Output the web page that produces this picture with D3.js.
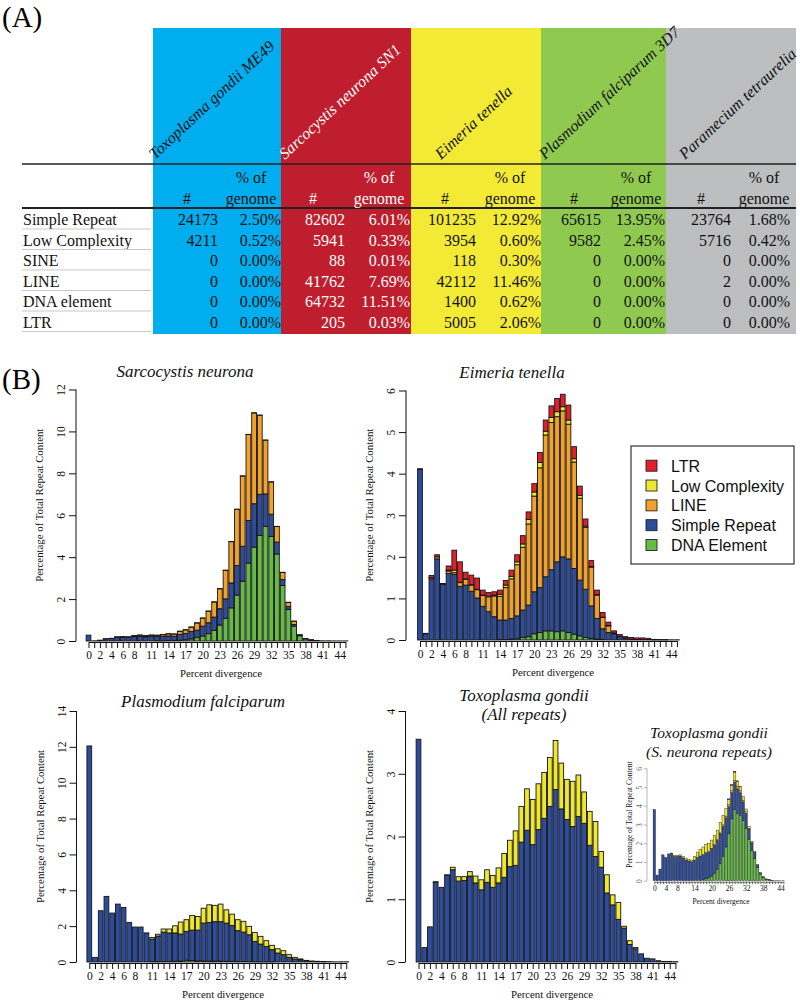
<!DOCTYPE html>
<html><head><meta charset="utf-8">
<script src="https://cdn.jsdelivr.net/npm/d3@7"></script>
<style>
body{margin:0;background:#fff}
svg{display:block}
text{font-family:"Liberation Serif","Times New Roman",serif}
</style>
</head><body>
<svg id="c" width="800" height="1006"></svg>
<script>
// ---------------- DATA: table (A) ----------------
const speciesNames = ["Toxoplasma gondii ME49","Sarcocystis neurona SN1","Eimeria tenella","Plasmodium falciparum 3D7","Paramecium tetraurelia"];
const repeatTypes = ["Simple Repeat","Low Complexity","SINE","LINE","DNA element","LTR"];
const countsToxoplasma  = [24173, 4211, 0, 0, 0, 0];
const pctToxoplasma     = [2.50, 0.52, 0.00, 0.00, 0.00, 0.00];
const countsSarcocystis = [82602, 5941, 88, 41762, 64732, 205];
const pctSarcocystis    = [6.01, 0.33, 0.01, 7.69, 11.51, 0.03];
const countsEimeria     = [101235, 3954, 118, 42112, 1400, 5005];
const pctEimeria        = [12.92, 0.60, 0.30, 11.46, 0.62, 2.06];
const countsPlasmodium  = [65615, 9582, 0, 0, 0, 0];
const pctPlasmodium     = [13.95, 2.45, 0.00, 0.00, 0.00, 0.00];
const countsParamecium  = [23764, 5716, 0, 2, 0, 0];
const pctParamecium     = [1.68, 0.42, 0.00, 0.00, 0.00, 0.00];

// ---------------- DATA: histograms (B) ----------------
const bins = [0,1,2,3,4,5,6,7,8,9,10,11,12,13,14,15,16,17,18,19,20,21,22,23,24,25,26,27,28,29,30,31,32,33,34,35,36,37,38,39,40,41,42,43,44,45];
const xTickLabels = [0,2,4,6,8,11,14,17,20,23,26,29,32,35,38,41,44];
const insetTickLabels = [0,4,8,14,20,26,32,38,44];
const legendLabels = ["LTR","Low Complexity","LINE","Simple Repeat","DNA Element"];

// Sarcocystis neurona
const sarcoDNA    = [0,0,0,0,0,0,0,0,0,0, 0,0,0.01,0.01,0.02,0.03,0.04,0.06,0.10,0.16, 0.24,0.35,0.51,0.76,1.08,1.58,2.19,2.85,3.72,4.48, 5.04,5.47,4.99,4.15,2.65,1.50,0.71,0.25,0.10,0.04, 0.02,0.01,0.01,0.005,0.005,0.005];
const sarcoSimple = [0.28,0.01,0.04,0.10,0.12,0.18,0.19,0.18,0.21,0.22, 0.20,0.21,0.20,0.21,0.22,0.20,0.27,0.30,0.35,0.36, 0.47,0.52,0.63,0.78,0.93,1.19,1.41,1.67,2.03,2.07, 1.96,1.55,1.06,0.57,0.28,0.15,0.08,0.02,0.01,0.01, 0.005,0,0,0,0,0];
const sarcoLINE   = [0,0,0,0,0,0.01,0.01,0.01,0.03,0.05, 0.04,0.06,0.06,0.08,0.10,0.10,0.15,0.17,0.21,0.34, 0.38,0.55,0.72,0.95,1.36,1.97,2.68,3.35,4.10,4.33, 3.77,2.56,1.54,0.74,0.34,0.19,0.15,0.02,0.01,0.01, 0,0,0,0,0,0];
const sarcoLowC   = [0,0,0,0.01,0.01,0.01,0.01,0.01,0.02,0.02, 0.02,0.02,0.01,0.01,0.01,0.01,0.01,0.01,0.01,0.01, 0.01,0.01,0.01,0.01,0.01,0.01,0.01,0.01,0.01,0.01, 0.01,0.01,0.01,0.01,0.01,0.01,0.01,0.01,0,0, 0,0,0,0,0,0];
const sarcoLTR    = [0,0,0,0,0,0,0,0,0,0, 0,0,0,0,0,0,0,0,0,0, 0,0,0,0,0,0,0,0,0,0, 0,0,0,0,0,0,0,0,0,0, 0,0,0,0,0,0];

// Eimeria tenella
const eimDNA    = [0,0,0,0,0,0,0,0,0,0, 0,0,0,0,0.01,0.01,0.02,0.03,0.06,0.08, 0.15,0.18,0.22,0.22,0.20,0.22,0.18,0.14,0.10,0.06, 0.04,0.02,0.01,0,0,0,0,0,0,0, 0,0,0,0,0,0];
const eimSimple = [4.10,0.15,1.47,1.95,1.34,1.60,1.58,1.29,1.32,1.17, 1.01,0.81,0.68,0.56,0.47,0.47,0.50,0.55,0.66,0.76, 1.01,1.08,1.30,1.47,1.68,1.78,1.77,1.58,1.34,1.16, 0.78,0.50,0.26,0.18,0.15,0.08,0.04,0.02,0.01,0.01, 0.01,0.005,0.005,0.005,0.005,0.005];
const eimLINE   = [0.02,0,0.03,0.05,0.01,0.06,0.04,0.09,0.14,0.15, 0.20,0.26,0.36,0.50,0.57,0.78,0.95,1.23,1.51,1.95, 2.30,2.88,3.41,3.54,3.49,3.51,3.24,2.56,1.97,1.49, 0.93,0.56,0.27,0.16,0.02,0.01,0.01,0,0,0, 0,0,0,0,0,0];
const eimLowC   = [0,0,0,0,0,0.02,0.06,0.01,0.01,0.01, 0.01,0.01,0.01,0.02,0.05,0.06,0.06,0.07,0.08,0.11, 0.10,0.13,0.09,0.12,0.12,0.10,0.10,0.08,0.07,0.03, 0.02,0.01,0.01,0.01,0,0,0,0,0,0, 0,0,0,0,0,0];
const eimLTR    = [0,0.01,0.05,0.05,0.01,0.10,0.48,0.49,0.16,0.23, 0.27,0.12,0.09,0.08,0.10,0.11,0.15,0.17,0.20,0.18, 0.20,0.24,0.27,0.28,0.32,0.30,0.36,0.29,0.22,0.17, 0.14,0.11,0.11,0.08,0.05,0.04,0.03,0.04,0.04,0.04, 0.03,0.01,0.005,0.005,0,0];

// Plasmodium falciparum
const plasDNA    = [0,0,0,0,0,0,0,0,0,0, 0,0.02,0.02,0.03,0.03,0.04,0.05,0.10,0.08,0.06, 0.06,0.05,0.05,0.05,0.04,0.04,0.03,0.03,0.02,0.02, 0.01,0.01,0.01,0,0,0,0,0,0,0, 0,0,0,0,0,0];
const plasSimple = [12.05,0.26,2.86,3.66,2.73,3.23,3.04,2.21,1.95,1.95, 1.60,1.26,1.43,1.64,1.59,1.58,1.51,1.61,1.70,1.72, 2.11,2.16,2.20,2.20,2.13,2.00,1.72,1.64,1.50,1.13, 0.99,0.86,0.68,0.50,0.41,0.26,0.17,0.12,0.07,0.04, 0.03,0.02,0.02,0.01,0.01,0.01];
const plasLINE   = [0,0,0,0,0,0,0,0,0,0, 0,0,0,0,0,0,0,0,0,0, 0,0,0,0,0,0,0,0,0,0, 0,0,0,0,0,0,0,0,0,0, 0,0,0,0,0,0];
const plasLowC   = [0,0,0,0,0,0,0,0,0,0, 0.02,0.09,0.10,0.17,0.22,0.40,0.67,0.65,0.82,0.76, 0.83,0.98,0.91,0.98,0.74,0.63,0.61,0.60,0.47,0.50, 0.43,0.32,0.24,0.24,0.22,0.15,0.09,0.05,0.02,0.01, 0.01,0.01,0,0,0,0];
const plasLTR    = [0,0,0,0,0,0,0,0,0,0, 0,0,0,0,0,0,0,0,0,0, 0,0,0,0,0,0,0,0,0,0, 0,0,0,0,0,0,0,0,0,0, 0,0,0,0,0,0];

// Toxoplasma gondii (all repeats)
const toxoDNA    = [0,0,0,0,0,0,0,0,0,0, 0,0,0,0,0,0,0,0,0,0, 0,0,0,0,0,0,0,0,0,0, 0,0,0,0,0,0,0,0,0,0, 0,0,0,0,0,0];
const toxoSimple = [3.55,0.23,0.56,1.27,1.19,1.38,1.47,1.29,1.30,1.37, 1.26,1.15,1.27,1.19,1.26,1.35,1.52,1.54,1.91,2.10, 1.87,2.11,2.29,2.48,2.75,2.44,2.27,2.16,2.32,2.21, 1.86,1.68,1.51,1.10,0.91,0.68,0.54,0.28,0.21,0.13, 0.06,0.05,0.02,0.01,0.01,0.005];
const toxoLINE   = [0,0,0,0,0,0,0,0,0,0, 0,0,0,0,0,0,0,0,0,0, 0,0,0,0,0,0,0,0,0,0, 0,0,0,0,0,0,0,0,0,0, 0,0,0,0,0,0];
const toxoLowC   = [0,0,0,0.01,0,0.01,0.04,0.07,0.06,0.07, 0.11,0.16,0.20,0.19,0.24,0.38,0.42,0.55,0.57,0.66, 0.72,0.73,0.73,0.78,0.78,0.73,0.64,0.72,0.66,0.50, 0.54,0.56,0.25,0.29,0.16,0.27,0.03,0.06,0.02,0, 0,0,0,0,0,0];
const toxoLTR    = [0,0,0,0,0,0,0,0,0,0, 0,0,0,0,0,0,0,0,0,0, 0,0,0,0,0,0,0,0,0,0, 0,0,0,0,0,0,0,0,0,0, 0,0,0,0,0,0];

// Toxoplasma gondii (S. neurona repeats) inset
const insetDNA    = [0,0,0,0,0,0,0,0,0,0, 0,0,0,0,0,0,0.02,0.05,0.10,0.15, 0.25,0.40,0.60,0.90,1.30,1.80,2.50,3.30,3.80,3.60, 3.50,3.20,2.80,2.20,1.60,1.20,0.70,0.35,0.18,0.08, 0.04,0.02,0.01,0.01,0.005,0.005];
const insetSimple = [3.80,0.30,0.62,1.38,1.23,1.43,1.48,1.30,1.30,1.32, 1.22,1.10,1.05,1.00,1.10,1.25,1.30,1.35,1.40,1.40, 1.45,1.50,1.55,1.60,1.60,1.55,1.45,1.40,1.45,1.30, 1.20,1.00,0.80,0.55,0.40,0.30,0.15,0.08,0.04,0.02, 0.01,0.01,0,0,0,0];
const insetLINE   = [0,0,0,0,0,0,0,0,0,0, 0,0,0,0,0,0,0,0,0,0, 0.02,0.03,0.05,0.05,0.08,0.10,0.10,0.10,0.10,0.15, 0.12,0.10,0.08,0.05,0.03,0.02,0,0,0,0, 0,0,0,0,0,0];
const insetLowC   = [0,0,0,0,0,0,0,0.05,0.05,0.06, 0.08,0.10,0.10,0.10,0.20,0.28,0.35,0.40,0.45,0.45, 0.45,0.50,0.50,0.55,0.50,0.40,0.30,0.30,0.45,0.25, 0.20,0.20,0.15,0.10,0.08,0.05,0,0,0,0, 0,0,0,0,0,0];
const insetLTR    = [0,0,0,0,0,0,0,0,0,0, 0,0,0,0,0,0,0,0,0,0, 0,0,0,0,0,0,0.02,0.03,0.03,0.03, 0.02,0,0,0,0,0,0,0,0,0, 0,0,0,0,0,0];

// ---------------- STYLE / LAYOUT ----------------
const keys = ["DNA","Simple","LINE","LowC","LTR"];
const barColors = {LTR:"#E3202A", LowC:"#EFE82C", LINE:"#F2A22C", Simple:"#2E4C9C", DNA:"#66BA47"};
const legendKeys = ["LTR","LowC","LINE","Simple","DNA"];
const colFills = ["#00AEEF","#BE1E2D","#F3EA36","#90C950","#BCBEC0"];
const headTextColor = ["#111","#fff","#111","#111","#111"];
const cellTextColor = ["#111","#fff","#111","#111","#111"];

const svg = d3.select("#c");
svg.append("rect").attr("width",800).attr("height",1006).attr("fill","#fff");

// ---------------- TABLE (A) ----------------
const colLeft  = [153,281,411,541,666];
const colRight = [281,411,541,666,796];
const hashX    = [187,313,445,574,701];
const numRight = [218,345,476,601,731];
const pctHeadX = [251,379,510,636,764];
const pctRight = [281,410,541,665,790];
const nameStart = [155,285,441,545,685];
const allCounts = [countsToxoplasma,countsSarcocystis,countsEimeria,countsPlasmodium,countsParamecium];
const allPcts = [pctToxoplasma,pctSarcocystis,pctEimeria,pctPlasmodium,pctParamecium];

svg.append("text").attr("x",2).attr("y",27).attr("font-size",29).text("(A)");

const rowY = d3.scalePoint().domain(repeatTypes).range([219.5, 322]);

const tg = svg.append("g");
tg.selectAll("rect.col").data(speciesNames).join("rect")
  .attr("x",(d,i)=>colLeft[i]).attr("y",28)
  .attr("width",(d,i)=>colRight[i]-colLeft[i]).attr("height",306)
  .attr("fill",(d,i)=>colFills[i]);

tg.selectAll("text.sp").data(speciesNames).join("text")
  .attr("transform",(d,i)=>`translate(${nameStart[i]},160) rotate(-43)`)
  .attr("font-size",16).attr("font-style","italic")
  .attr("fill",(d,i)=>headTextColor[i]).text(d=>d);

// header lines
tg.append("line").attr("x1",22).attr("x2",796).attr("y1",164).attr("y2",164).attr("stroke","#222").attr("stroke-width",1.5);
tg.append("line").attr("x1",22).attr("x2",796).attr("y1",208).attr("y2",208).attr("stroke","#222").attr("stroke-width",2);

speciesNames.forEach((s,i)=>{
  tg.append("text").attr("x",hashX[i]).attr("y",204).attr("text-anchor","middle").attr("font-size",16).attr("fill",cellTextColor[i]).text("#");
  tg.append("text").attr("x",pctHeadX[i]).attr("y",183).attr("text-anchor","middle").attr("font-size",16).attr("fill",cellTextColor[i]).text("% of");
  tg.append("text").attr("x",pctHeadX[i]).attr("y",204).attr("text-anchor","middle").attr("font-size",16).attr("fill",cellTextColor[i]).text("genome");
  repeatTypes.forEach((r,j)=>{
    tg.append("text").attr("x",numRight[i]).attr("y",rowY(r)+5.5).attr("text-anchor","end").attr("font-size",16).attr("fill",cellTextColor[i]).text(allCounts[i][j]);
    tg.append("text").attr("x",pctRight[i]).attr("y",rowY(r)+5.5).attr("text-anchor","end").attr("font-size",16).attr("fill",cellTextColor[i]).text(allPcts[i][j].toFixed(2)+"%");
  });
});
repeatTypes.forEach(r=>{
  tg.append("text").attr("x",23).attr("y",rowY(r)+5.5).attr("font-size",16).attr("fill","#111").text(r);
  tg.append("line").attr("x1",22).attr("x2",151).attr("y1",rowY(r)+9.5).attr("y2",rowY(r)+9.5).attr("stroke","#c8c8c8").attr("stroke-width",1);
});

// ---------------- PANELS (B) ----------------
svg.append("text").attr("x",2).attr("y",389).attr("font-size",29).text("(B)");

function drawPanel(cfg, layers) {
  const g = svg.append("g");
  const x = d3.scaleLinear().domain([bins[0], bins[bins.length-1]])
              .range([cfg.bar0, cfg.bar0 + cfg.step*(bins.length-1)]);
  const y = d3.scaleLinear().domain([0, cfg.yMax]).range([cfg.y0, cfg.yTop]);
  const rows = bins.map((b,i)=>{ const r={bin:b}; keys.forEach(k=>{ r[k]=layers[k][i]; }); return r; });
  const stacked = d3.stack().keys(keys)(rows);
  const bw = cfg.step/1.2;
  g.append("g").selectAll("g").data(stacked).join("g").attr("fill",d=>barColors[d.key])
    .selectAll("rect").data(d=>d.filter(s=>s[1]-s[0]>0)).join("rect")
    .attr("x",d=>x(d.data.bin)-bw/2).attr("y",d=>y(d[1]))
    .attr("width",bw).attr("height",d=>y(d[0])-y(d[1]))
    .attr("stroke","#151515").attr("stroke-width",cfg.sw);

  // x axis
  const lab = new Set(cfg.xLabels);
  const xa = g.append("g").attr("transform",`translate(0,${cfg.y0+1})`)
    .call(d3.axisBottom(x).tickValues(bins).tickFormat(d=>lab.has(d)?d:"").tickSize(cfg.tick).tickSizeOuter(0).tickPadding(cfg.xPad));
  xa.selectAll("path,line").attr("stroke",cfg.axisColor).attr("stroke-width",cfg.axW);
  xa.selectAll("text").attr("font-size",cfg.fs).attr("fill","#111");

  // y axis
  const ya = g.append("g").attr("transform",`translate(${cfg.axisX},0)`)
    .call(d3.axisLeft(y).tickValues(cfg.yTicks).tickFormat(d3.format("d")).tickSize(cfg.ytick).tickSizeOuter(0));
  ya.selectAll("path,line").attr("stroke",cfg.yAxisColor).attr("stroke-width",cfg.axW);
  ya.selectAll("text").attr("font-size",cfg.fs).attr("fill",cfg.yLabColor)
    .attr("transform","rotate(-90)").attr("text-anchor","middle").attr("dy",null)
    .attr("x",0).attr("y",cfg.yLabOff);
  ya.select(".domain").attr("d",`M0,${cfg.y0}V${cfg.yTop}`);

  // axis titles
  g.append("text").attr("x",cfg.xTitleX).attr("y",cfg.y0+cfg.xTitleDy).attr("text-anchor","middle")
    .attr("font-size",cfg.titleFs).attr("fill","#111").text("Percent divergence");
  g.append("text").attr("transform",`translate(${cfg.axisX-cfg.yTitleOff},${(cfg.y0+cfg.yTop)/2-10}) rotate(-90)`)
    .attr("text-anchor","middle").attr("font-size",cfg.titleFs).attr("fill","#111").text("Percentage of Total Repeat Content");
  // main title
  cfg.title.forEach((t,i)=>{
    g.append("text").attr("x",cfg.titleX).attr("y",cfg.titleY+i*cfg.titleLH).attr("text-anchor","middle")
      .attr("font-size",cfg.mainFs).attr("font-style","italic").attr("fill","#111").text(t);
  });
}

const big = {step:5.71, sw:0.9, tick:6, ytick:7, xPad:3, fs:11.5, axW:1, axisColor:"#111", yAxisColor:"#111", yLabColor:"#111",
  yLabOff:-11, titleFs:10.8, yTitleOff:33, xTitleDy:36, mainFs:17, titleLH:19, xLabels:xTickLabels};

drawPanel(Object.assign({}, big, {axisX:76, bar0:88.5, y0:641, yTop:389.5, yMax:12, yTicks:[0,2,4,6,8,10,12],
  xTitleX:221, titleX:185, titleY:377, title:["Sarcocystis neurona"]}),
  {DNA:sarcoDNA, Simple:sarcoSimple, LINE:sarcoLINE, LowC:sarcoLowC, LTR:sarcoLTR});

drawPanel(Object.assign({}, big, {axisX:406, bar0:420, y0:640, yTop:390.5, yMax:6, yTicks:[0,1,2,3,4,5,6],
  xTitleX:553, titleX:512, titleY:378, title:["Eimeria tenella"]}),
  {DNA:eimDNA, Simple:eimSimple, LINE:eimLINE, LowC:eimLowC, LTR:eimLTR});

drawPanel(Object.assign({}, big, {axisX:76.5, bar0:89.3, y0:962, yTop:711, yMax:14, yTicks:[0,2,4,6,8,10,12,14],
  xTitleX:223, titleX:203, titleY:707, title:["Plasmodium falciparum"]}),
  {DNA:plasDNA, Simple:plasSimple, LINE:plasLINE, LowC:plasLowC, LTR:plasLTR});

drawPanel(Object.assign({}, big, {axisX:405.5, bar0:418.5, y0:962, yTop:711, yMax:4, yTicks:[0,1,2,3,4],
  xTitleX:552, titleX:524, titleY:701, title:["Toxoplasma gondii","(All repeats)"]}),
  {DNA:toxoDNA, Simple:toxoSimple, LINE:toxoLINE, LowC:toxoLowC, LTR:toxoLTR});

// inset
drawPanel({step:2.87, sw:0.4, tick:2.5, ytick:3, xPad:1, fs:7.5, axW:0.7, axisColor:"#333", yAxisColor:"#999", yLabColor:"#666",
  yLabOff:-5, titleFs:7.5, yTitleOff:15, xTitleDy:23, mainFs:15.5, titleLH:18.5, xLabels:insetTickLabels,
  axisX:647, bar0:654.3, y0:880.7, yTop:768.3, yMax:6, yTicks:[0,1,2,3,4,5,6],
  xTitleX:721, titleX:709, titleY:738, title:["Toxoplasma gondii","(S. neurona repeats)"]},
  {DNA:insetDNA, Simple:insetSimple, LINE:insetLINE, LowC:insetLowC, LTR:insetLTR});

// legend
const lg = svg.append("g");
lg.append("rect").attr("x",631).attr("y",446).attr("width",163).attr("height",118)
  .attr("fill","#fff").attr("stroke","#333").attr("stroke-width",1.2);
const ly = d3.scalePoint().domain(legendKeys).range([465.7,545]);
lg.selectAll("rect.k").data(legendKeys).join("rect")
  .attr("x",646).attr("y",d=>ly(d)-5.5).attr("width",11).attr("height",11)
  .attr("fill",d=>barColors[d]).attr("stroke","#222").attr("stroke-width",0.9);
lg.selectAll("text").data(legendKeys).join("text")
  .attr("x",671).attr("y",d=>ly(d)+6)
  .style("font-family","'Liberation Sans', Arial, sans-serif")
  .attr("font-size",16).attr("fill","#111").text((d,i)=>legendLabels[i]);
</script>
</body></html>
